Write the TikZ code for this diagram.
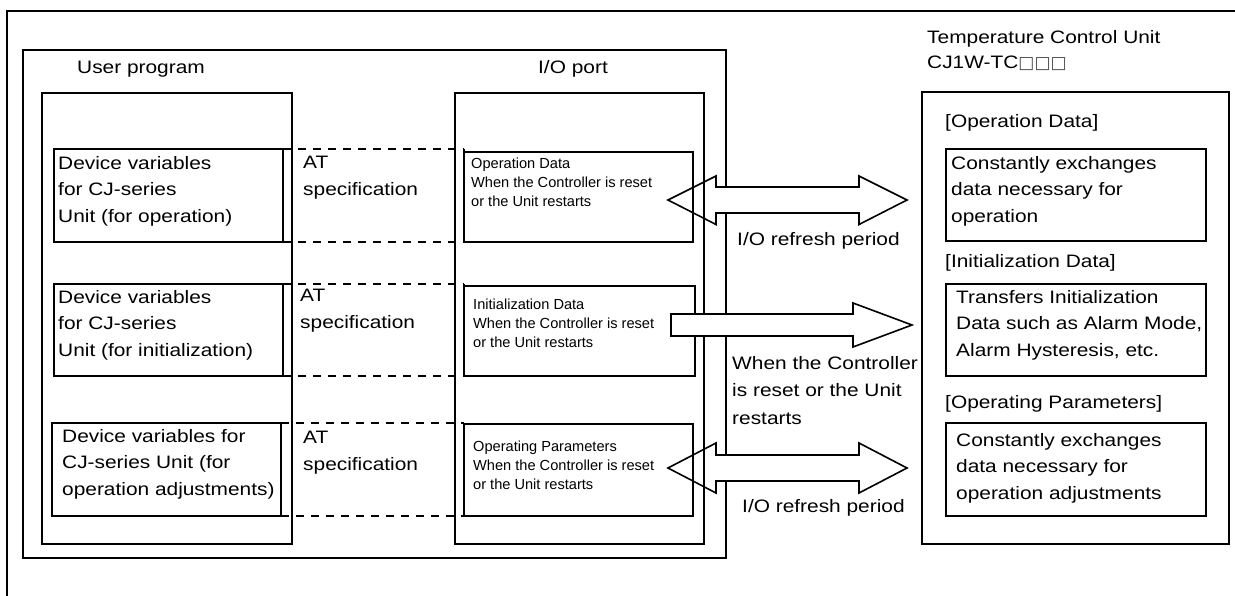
\documentclass[tikz,border=0pt]{standalone}
\usepackage{fontspec}
\setmainfont{Liberation Sans}
\newfontfamily\bigf{Liberation Sans}[FakeStretch=1.16]
\newfontfamily\sqf{DejaVu Sans}
\begin{document}
\begin{tikzpicture}[x=1pt,y=-1pt,
  box/.style={draw, line width=1.6pt, inner sep=0pt, outer sep=0pt, anchor=north west},
  big/.style={font=\bigf\fontsize{18}{26.5}\selectfont, inner sep=0pt, align=left},
  small/.style={font=\fontsize{14.6}{18.7}\selectfont, inner sep=0pt, align=left},
  dsh/.style={line width=1.6pt, dash pattern=on 8pt off 7pt},
  blk/.style={line width=1.6pt, line join=miter}
]
\useasboundingbox (0,0) rectangle (1235,596);
\fill[white] (0,0) rectangle (1235,596);
% outer frame
\draw[line width=1.6pt] (7,596) -- (7,11) -- (1235,11);
% boxes
\node[box, minimum width=703pt, minimum height=508pt] (ctrl) at (23,50) {};
\node[box, minimum width=250pt, minimum height=451pt] (up) at (42,93) {};
\node[box, minimum width=249pt, minimum height=451pt] (io) at (455,93) {};
\node[box, minimum width=229pt, minimum height=93pt] (d1) at (54,149) {};
\node[box, minimum width=229pt, minimum height=92pt] (d2) at (54,284) {};
\node[box, minimum width=229pt, minimum height=93pt] (d3) at (52,423) {};
\node[box, minimum width=229pt, minimum height=90pt] (i1) at (464,152) {};
\node[box, minimum width=231pt, minimum height=90pt] (i2) at (464,286) {};
\node[box, minimum width=229pt, minimum height=92pt] (i3) at (464,424) {};
\node[box, minimum width=307pt, minimum height=452pt] (tcu) at (922,92) {};
\node[box, minimum width=260pt, minimum height=92pt] (ta) at (946,149) {};
\node[box, minimum width=260pt, minimum height=92pt] (tb) at (946,284) {};
\node[box, minimum width=260pt, minimum height=93pt] (tc) at (946,423) {};
% dashed AT links
\foreach \d/\i in {d1/i1,d2/i2,d3/i3}{
  \draw[dsh] (\d.north east) -- (\d.north east -| \i.west);
  \draw[dsh] (\d.south east) -- (\d.south east -| \i.west);
  \draw[line width=1.6pt] (\d.north east -| \i.west) -- (\d.south east -| \i.west);
}
% texts
\node[big, anchor=base west] (tup) at (77,74) {User program};
\node[big, anchor=base] (tio) at (573,74) {I/O port};
\node[big, anchor=north west] (td1) at (58,156) {Device variables\\for CJ-series\\Unit (for operation)};
\node[big, anchor=north west] (td2) at (58,290) {Device variables\\for CJ-series\\Unit (for initialization)};
\node[big, anchor=north west] (td3) at (62,429) {Device variables for\\CJ-series Unit (for\\operation adjustments)};
\node[big, anchor=north west] (at1) at (303,156) {AT\\specification};
\node[big, anchor=north west] (at2) at (300,289) {AT\\specification};
\node[big, anchor=north west] (at3) at (303,431) {AT\\specification};
\node[small, anchor=north west] (ti1) at (471,158) {Operation Data\\When the Controller is reset\\or the Unit restarts};
\node[small, anchor=north west] (ti2) at (473,299) {Initialization Data\\When the Controller is reset\\or the Unit restarts};
\node[small, anchor=north west] (ti3) at (473,441) {Operating Parameters\\When the Controller is reset\\or the Unit restarts};
\node[big, anchor=base west] (rp1) at (737,246) {I/O refresh period};
\node[big, anchor=base west] (rp2) at (742,512) {I/O refresh period};
\node[big, anchor=north west, font=\bigf\fontsize{18}{27.5}\selectfont] (wh) at (732,356) {When the Controller\\is reset or the Unit\\restarts};
\node[big, anchor=north west, font=\bigf\fontsize{18}{25}\selectfont] (ttl) at (927,30) {Temperature Control Unit\\CJ1W-TC{\sqf\fontsize{17}{25}\selectfont\color{black!70}□□□}};
\node[big, anchor=base west] (hop) at (945,128) {[Operation Data]};
\node[big, anchor=north west] (tta) at (951,156) {Constantly exchanges\\data necessary for\\operation};
\node[big, anchor=base west] (hin) at (945,268) {[Initialization Data]};
\node[big, anchor=north west] (ttb) at (956,290) {Transfers Initialization\\Data such as Alarm Mode,\\Alarm Hysteresis, etc.};
\node[big, anchor=base west] (hpa) at (945,408) {[Operating Parameters]};
\node[big, anchor=north west] (ttc) at (956,433) {Constantly exchanges\\data necessary for\\operation adjustments};
% block arrows
\coordinate (a1l) at (668,200); \coordinate (a1r) at (907,200);
\fill[white] (716,187) rectangle (859,213);
\draw[blk] (a1l) -- (716,176) -- (716,187) -- (859,187) -- (859,176) -- (a1r) -- (859,224.5) -- (859,213) -- (716,213) -- (716,224.5) -- cycle;
\coordinate (a2l) at (671,325); \coordinate (a2r) at (912,325);
\fill[white] (671,314) rectangle (853,336);
\draw[blk] (671,314) -- (853,314) -- (853,303) -- (a2r) -- (853,347) -- (853,336) -- (671,336) -- cycle;
\coordinate (a3l) at (668,468); \coordinate (a3r) at (907,468);
\fill[white] (716,455) rectangle (859,481);
\draw[blk] (a3l) -- (716,443) -- (716,455) -- (859,455) -- (859,443) -- (a3r) -- (859,493) -- (859,481) -- (716,481) -- (716,493) -- cycle;
\end{tikzpicture}
\end{document}
